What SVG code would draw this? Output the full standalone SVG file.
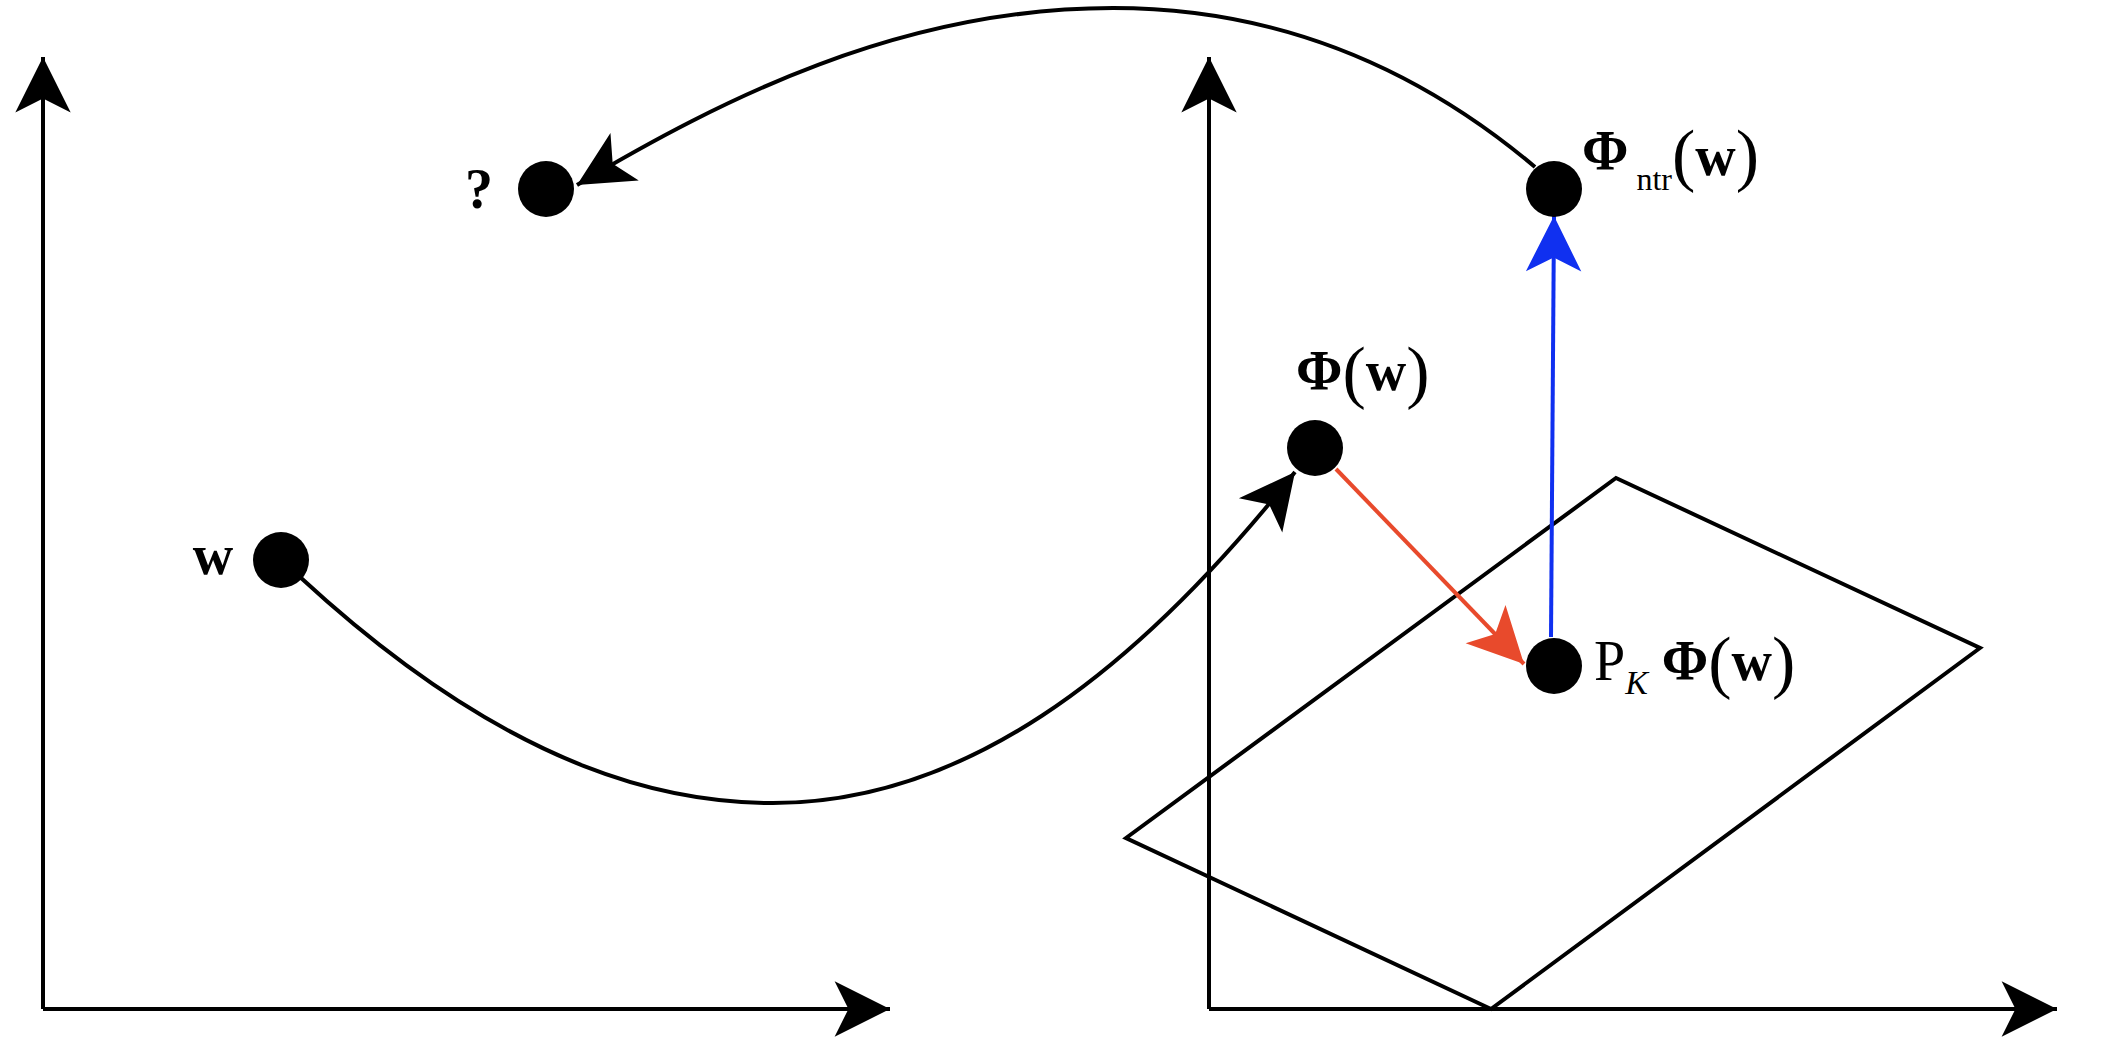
<svg xmlns="http://www.w3.org/2000/svg" width="2104" height="1060" viewBox="0 0 2104 1060">
<style>
.ax{stroke:#000;stroke-width:4;fill:none}
.node{fill:#000}
.t{font-family:"Liberation Serif",serif;font-size:56px;fill:#000}
.b{font-weight:bold}
.p{font-size:70px;font-weight:normal}
</style>
<defs>
<marker id="ak" markerUnits="userSpaceOnUse" markerWidth="60" markerHeight="60" viewBox="-50 -26 52 52" refX="0" refY="0" orient="auto"><path d="M0,0 L-48,-24 L-36,0 L-48,24 Z" fill="#000"/></marker>
<marker id="ar" markerUnits="userSpaceOnUse" markerWidth="60" markerHeight="60" viewBox="-50 -26 52 52" refX="0" refY="0" orient="auto"><path d="M0,0 L-48,-24 L-36,0 L-48,24 Z" fill="#e84a2c"/></marker>
<marker id="ab" markerUnits="userSpaceOnUse" markerWidth="60" markerHeight="60" viewBox="-50 -26 52 52" refX="0" refY="0" orient="auto"><path d="M0,0 L-48,-24 L-36,0 L-48,24 Z" fill="#1030f0"/></marker>
</defs>
<rect width="2104" height="1060" fill="#fff"/>
<g id="axes">
<path class="ax" d="M43,1009 V57" marker-end="url(#ak)"/>
<path class="ax" d="M43,1009 H890" marker-end="url(#ak)"/>
<path class="ax" d="M1209,1009 V57" marker-end="url(#ak)"/>
<path class="ax" d="M1209,1009 H2057" marker-end="url(#ak)"/>
</g>
<g id="plane"><path class="ax" d="M1126,838 L1616,478 L1980,648 L1491,1009 Z"/></g>
<g id="connectors">
<path d="M300,577 C520,780 680,803 773,803 C960,803 1130,680 1295,472" stroke="#000" stroke-width="4" fill="none" marker-end="url(#ak)"/>
<path d="M1535,167 C1420,70 1280,8 1113,8 C900,8 720,100 577,185" stroke="#000" stroke-width="4" fill="none" marker-end="url(#ak)"/>
<path d="M1336,469 L1524,664" stroke="#e84a2c" stroke-width="4" fill="none" marker-end="url(#ar)"/>
<path d="M1551,637 L1554,216" stroke="#1030f0" stroke-width="4" fill="none" marker-end="url(#ab)"/>
</g>
<g id="q"><circle class="node" cx="546" cy="189" r="28"/><text class="t b" x="479" y="208" text-anchor="middle">?</text></g>
<g id="w"><circle class="node" cx="281" cy="560" r="28"/><text class="t b" x="213" y="574" text-anchor="middle">w</text></g>
<g id="phi"><circle class="node" cx="1315" cy="448" r="28"/><text class="t" x="1296" y="390"><tspan class="b">Φ</tspan><tspan class="p" dy="5">(</tspan><tspan class="b" dy="-5">w</tspan><tspan class="p" dy="5">)</tspan></text></g>
<g id="phintr"><circle class="node" cx="1554" cy="189" r="28"/><text class="t" x="1582" y="170"><tspan class="b">Φ</tspan><tspan font-size="32" dy="20"> ntr</tspan><tspan class="p" dy="-12">(</tspan><tspan class="b" dy="-3">w</tspan><tspan class="p" dy="3">)</tspan></text></g>
<g id="pk"><circle class="node" cx="1554" cy="666" r="28"/><text class="t" x="1594" y="680">P<tspan font-size="34" font-style="italic" dy="14">K</tspan><tspan class="b" dy="-14"> Φ</tspan><tspan class="p" dy="5">(</tspan><tspan class="b" dy="-5">w</tspan><tspan class="p" dy="5">)</tspan></text></g>
</svg>
